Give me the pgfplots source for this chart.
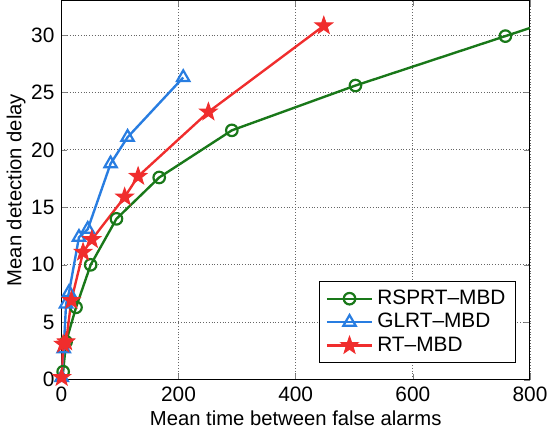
\documentclass[border=0pt]{standalone}
\usepackage{fontspec}
\setmainfont{Liberation Sans}
\usepackage{pgfplots}
\pgfplotsset{compat=1.18}
\definecolor{cgreen}{RGB}{25,120,25}
\definecolor{cblue}{RGB}{40,125,225}
\definecolor{cred}{RGB}{240,45,45}
\pgfdeclareplotmark{pentagram}{%
  \pgfpathmoveto{\pgfqpointpolar{90}{\pgfplotmarksize}}%
  \pgfpathlineto{\pgfqpointpolar{126}{0.4\pgfplotmarksize}}%
  \pgfpathlineto{\pgfqpointpolar{162}{\pgfplotmarksize}}%
  \pgfpathlineto{\pgfqpointpolar{198}{0.4\pgfplotmarksize}}%
  \pgfpathlineto{\pgfqpointpolar{234}{\pgfplotmarksize}}%
  \pgfpathlineto{\pgfqpointpolar{270}{0.4\pgfplotmarksize}}%
  \pgfpathlineto{\pgfqpointpolar{306}{\pgfplotmarksize}}%
  \pgfpathlineto{\pgfqpointpolar{342}{0.4\pgfplotmarksize}}%
  \pgfpathlineto{\pgfqpointpolar{18}{\pgfplotmarksize}}%
  \pgfpathlineto{\pgfqpointpolar{54}{0.4\pgfplotmarksize}}%
  \pgfpathclose
  \pgfusepathqfillstroke
}
\begin{document}
\begin{tikzpicture}
\begin{axis}[
  scale only axis,
  width=236pt, height=191pt,
  xmin=0, xmax=800, ymin=0, ymax=33,
  xtick={0,200,400,600,800},
  ytick={0,5,10,15,20,25,30},
  tick align=inside,
  major tick length=3pt,
  grid=major,
  major grid style={black!60, densely dotted, line width=0.4pt},
  axis line style={black, line width=0.5pt},
  /pgf/number format/assume math mode=true,
  tick label style={font=\fontsize{10.5}{12}\selectfont},
  xlabel={Mean time between false alarms},
  ylabel={Mean detection delay},
  label style={font=\fontsize{10.2}{12}\selectfont},
  xlabel style={yshift=2pt},
  ylabel style={yshift=-4pt},
  legend style={at={(0.97,0.045)}, anchor=south east, draw=black, line width=0.5pt,
    font=\fontsize{10.5}{12}\selectfont, row sep=-1pt, inner xsep=3pt, inner ysep=2pt},
  legend cell align=left,
  legend image code/.code={
    \draw[mark repeat=2,mark phase=2] plot coordinates {(0cm,0cm) (0.4cm,0cm) (0.8cm,0cm)};
  },
  clip=true,
]
\addplot[color=cgreen, line width=1.2pt, mark=o, mark size=2.9pt, mark options={line width=1.1pt}]
  coordinates {(3,0.7) (8,3.3) (25,6.3) (50,10) (94,14) (167,17.6) (291,21.7) (502,25.6) (758,29.9) (1000,34)};
\addlegendentry{RSPRT\textendash MBD}
\addplot[color=cblue, line width=1.2pt, mark=triangle, mark size=3.6pt, mark options={line width=1.1pt}]
  coordinates {(0.5,0.2) (4,2.7) (8,6.6) (13,7.6) (30,12.4) (45,13.1) (84,18.8) (113,21.1) (208,26.3)};
\addlegendentry{GLRT\textendash MBD}
\addplot[color=cred, line width=1.2pt, mark=pentagram, mark size=4.6pt, mark options={line width=0.5pt, fill=cred, draw=cred}]
  coordinates {(0.5,0.2) (3,3.1) (8,3.3) (17,6.9) (37,11.1) (52,12.2) (108,15.9) (131,17.7) (251,23.3) (448,30.8)};
\addlegendentry{RT\textendash MBD}
\end{axis}
\end{tikzpicture}
\end{document}
